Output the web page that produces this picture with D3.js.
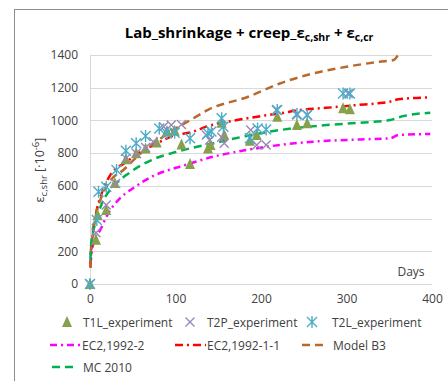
<!DOCTYPE html>
<html><head><meta charset="utf-8">
<script src="https://cdn.jsdelivr.net/npm/d3@7"></script>
<style>
html,body{margin:0;padding:0;background:#fff;}
svg{display:block;font-family:"Open Sans",sans-serif;}
</style></head>
<body><svg id="c" width="448" height="381"></svg>
<script>
// ---- data ----
const xTicks = [0, 100, 200, 300, 400];
const yTicks = [0, 200, 400, 600, 800, 1000, 1200, 1400];

const t1lDays = [0, 7, 9, 19, 29, 42, 54, 65, 78, 90, 99, 107, 117, 138, 141, 154, 157, 187, 195, 219, 242, 254, 296, 304];
const t1lVals = [0, 270, 420, 452, 617, 762, 800, 829, 865, 935, 937, 853, 733, 829, 850, 986, 911, 876, 911, 1023, 972, 982, 1074, 1068];

const t2pDays = [0, 7, 19, 30, 42, 54, 65, 74, 86, 95, 107, 136, 140, 154, 157, 188, 195, 206, 218, 242, 254, 302];
const t2pVals = [0, 314, 483, 615, 768, 799, 835, 870, 962, 972, 975, 911, 880, 897, 860, 941, 850, 850, 1064, 1033, 1033, 1165];

const t2lDays = [0, 8, 10, 19, 31, 42, 54, 65, 81, 90, 99, 117, 138, 142, 154, 156, 187, 196, 206, 219, 242, 254, 296, 304];
const t2lVals = [0, 391, 564, 595, 697, 815, 860, 905, 951, 921, 925, 891, 921, 932, 1013, 962, 891, 951, 945, 1064, 1039, 1033, 1165, 1165];

const ec2bDays = [0.5, 2, 5, 12, 20, 33, 53, 72, 92, 105, 144, 183, 222, 261, 316, 351, 361, 398];
const ec2bVals = [120, 190, 270, 330, 420, 513, 595, 656, 697, 717, 778, 819, 850, 870, 884, 891, 911, 917];

const ec2aDays = [0.5, 1, 3, 7, 14, 23, 43, 60, 86, 94, 121, 136, 172, 203, 222, 246, 269, 292, 312, 335, 351, 361, 398];
const ec2aVals = [100, 160, 300, 430, 560, 660, 748, 809, 880, 900, 932, 962, 1002, 1029, 1043, 1064, 1074, 1084, 1094, 1104, 1115, 1130, 1141];

const b3Days = [0.5, 1, 3, 7, 14, 25, 39, 53, 66, 80, 100, 119, 138, 185, 222, 261, 300, 339, 355, 360, 364];
const b3Vals = [100, 200, 290, 420, 540, 640, 697, 768, 829, 880, 950, 1007, 1065, 1145, 1226, 1287, 1328, 1359, 1369, 1395, 1410];

const mcDays = [0.5, 1, 3, 6, 14, 29, 45, 72, 99, 144, 183, 222, 277, 316, 351, 361, 398];
const mcVals = [150, 220, 300, 371, 493, 605, 676, 758, 805, 860, 905, 941, 972, 986, 1002, 1019, 1047];

const lineSeries = [
  {name: "EC2,1992-2", days: ec2bDays, vals: ec2bVals, color: "#ff00ff", dash: "7,4,2,4"},
  {name: "EC2,1992-1-1", days: ec2aDays, vals: ec2aVals, color: "#ff0000", dash: "8,4,2,4"},
  {name: "Model B3", days: b3Days, vals: b3Vals, color: "#b8692b", dash: "8,5"},
  {name: "MC 2010", days: mcDays, vals: mcVals, color: "#00b050", dash: "8,5"}
];
const markerSeries = [
  {name: "T1L_experiment", days: t1lDays, vals: t1lVals, color: "#86a04c", type: "tri"},
  {name: "T2P_experiment", days: t2pDays, vals: t2pVals, color: "#9a86b8", type: "x"},
  {name: "T2L_experiment", days: t2lDays, vals: t2lVals, color: "#4bacc6", type: "ast"}
];

// ---- layout ----
const svg = d3.select("#c");
const m = {l: 90, r: 432, t: 55, b: 284};
const x = d3.scaleLinear().domain([0, 400]).range([m.l, m.r]);
const y = d3.scaleLinear().domain([0, 1400]).range([m.b, m.t]);

// outer chart border
svg.append("rect").attr("x", 14.5).attr("y", 9.5).attr("width", 600).attr("height", 600)
  .attr("fill", "none").attr("stroke", "#8c8c8c").attr("stroke-width", 1);

// gridlines
svg.append("g").selectAll("line").data(yTicks).join("line")
  .attr("x1", m.l).attr("x2", m.r)
  .attr("y1", d => Math.round(y(d)) + 0.5).attr("y2", d => Math.round(y(d)) + 0.5)
  .attr("stroke", "#d9d9d9").attr("stroke-width", 1);

// y axis line
svg.append("line").attr("x1", m.l + 0.5).attr("x2", m.l + 0.5).attr("y1", m.t).attr("y2", m.b)
  .attr("stroke", "#d9d9d9");

// axes (labels only)
const yAxis = d3.axisLeft(y).tickValues(yTicks).tickFormat(d3.format("d")).tickSize(0).tickPadding(12);
const gy = svg.append("g").attr("transform", `translate(${m.l},0)`).call(yAxis);
gy.select(".domain").remove();
gy.selectAll("text").attr("font-size", 12).attr("fill", "#404040").attr("font-family", "'Open Sans', sans-serif");

const xAxis = d3.axisBottom(x).tickValues(xTicks).tickFormat(d3.format("d")).tickSize(0).tickPadding(10);
const gx = svg.append("g").attr("transform", `translate(0,${m.b})`).call(xAxis);
gx.select(".domain").remove();
gx.selectAll("text").attr("font-size", 12).attr("fill", "#404040").attr("font-family", "'Open Sans', sans-serif");

// title
const title = svg.append("text").attr("x", 249).attr("y", 38).attr("text-anchor", "middle")
  .attr("font-size", 15).attr("font-weight", "bold").attr("fill", "#000");
title.append("tspan").text("Lab_shrinkage + creep_ε");
title.append("tspan").attr("font-size", 10.5).attr("dy", 3).text("c,shr");
title.append("tspan").attr("dy", -3).text(" + ε");
title.append("tspan").attr("font-size", 10.5).attr("dy", 3).text("c,cr");

// y label
const yl = svg.append("text").attr("transform", "translate(44,170) rotate(-90)")
  .attr("text-anchor", "middle").attr("font-size", 12.5).attr("fill", "#404040");
yl.append("tspan").text("ε");
yl.append("tspan").attr("font-size", 9.5).attr("dy", 3).text("c,shr");
yl.append("tspan").attr("dy", -3).text(" [·10");
yl.append("tspan").attr("font-size", 9.5).attr("dy", -5).text("-6");
yl.append("tspan").attr("dy", 5).text("]");

// "Days"
svg.append("text").attr("x", 411).attr("y", 276).attr("text-anchor", "middle")
  .attr("font-size", 12).attr("fill", "#404040").text("Days");

// lines
const lineGen = d3.line().x(d => x(d[0])).y(d => y(d[1])).curve(d3.curveMonotoneX);
lineSeries.forEach(s => {
  const pts = s.days.map((d, i) => [d, s.vals[i]]);
  svg.append("path").attr("d", lineGen(pts)).attr("fill", "none")
    .attr("stroke", s.color).attr("stroke-width", 2.5).attr("stroke-dasharray", s.dash);
});

// markers
function drawMarker(g, type, color, cx, cy) {
  if (type === "tri") {
    const h = 10, w = 10;
    g.append("path").attr("d", `M${cx},${cy - h / 2 - 1}L${cx + w / 2},${cy + h / 2}L${cx - w / 2},${cy + h / 2}Z`)
      .attr("fill", color);
  } else if (type === "x") {
    const r = 4.5;
    g.append("path").attr("d", `M${cx - r},${cy - r}L${cx + r},${cy + r}M${cx - r},${cy + r}L${cx + r},${cy - r}`)
      .attr("stroke", color).attr("stroke-width", 1.4).attr("fill", "none");
  } else {
    const r = 5;
    g.append("path").attr("d", `M${cx - r},${cy - r}L${cx + r},${cy + r}M${cx - r},${cy + r}L${cx + r},${cy - r}M${cx},${cy - r - 1}L${cx},${cy + r + 1}`)
      .attr("stroke", color).attr("stroke-width", 1.4).attr("fill", "none");
  }
}
markerSeries.forEach(s => {
  const g = svg.append("g");
  s.days.forEach((d, i) => drawMarker(g, s.type, s.color, x(d), y(s.vals[i])));
});

// legend
const leg = svg.append("g").attr("font-size", 12).attr("fill", "#404040");
const mPos = [[67, 83], [190, 207], [312, 332]];
markerSeries.forEach((s, i) => {
  drawMarker(leg, s.type, s.color, mPos[i][0], 322);
  leg.append("text").attr("x", mPos[i][1]).attr("y", 326.5).text(s.name);
});
const lPos = [[50, 81, 82, 345], [175, 206, 207, 345], [302, 323, 333, 345], [52, 75, 83, 367]];
lineSeries.forEach((s, i) => {
  const p = lPos[i];
  leg.append("line").attr("x1", p[0]).attr("x2", p[1]).attr("y1", p[3]).attr("y2", p[3])
    .attr("stroke", s.color).attr("stroke-width", 2.5).attr("stroke-dasharray", s.dash);
  leg.append("text").attr("x", p[2]).attr("y", p[3] + 4.5).text(s.name);
});
</script></body></html>
